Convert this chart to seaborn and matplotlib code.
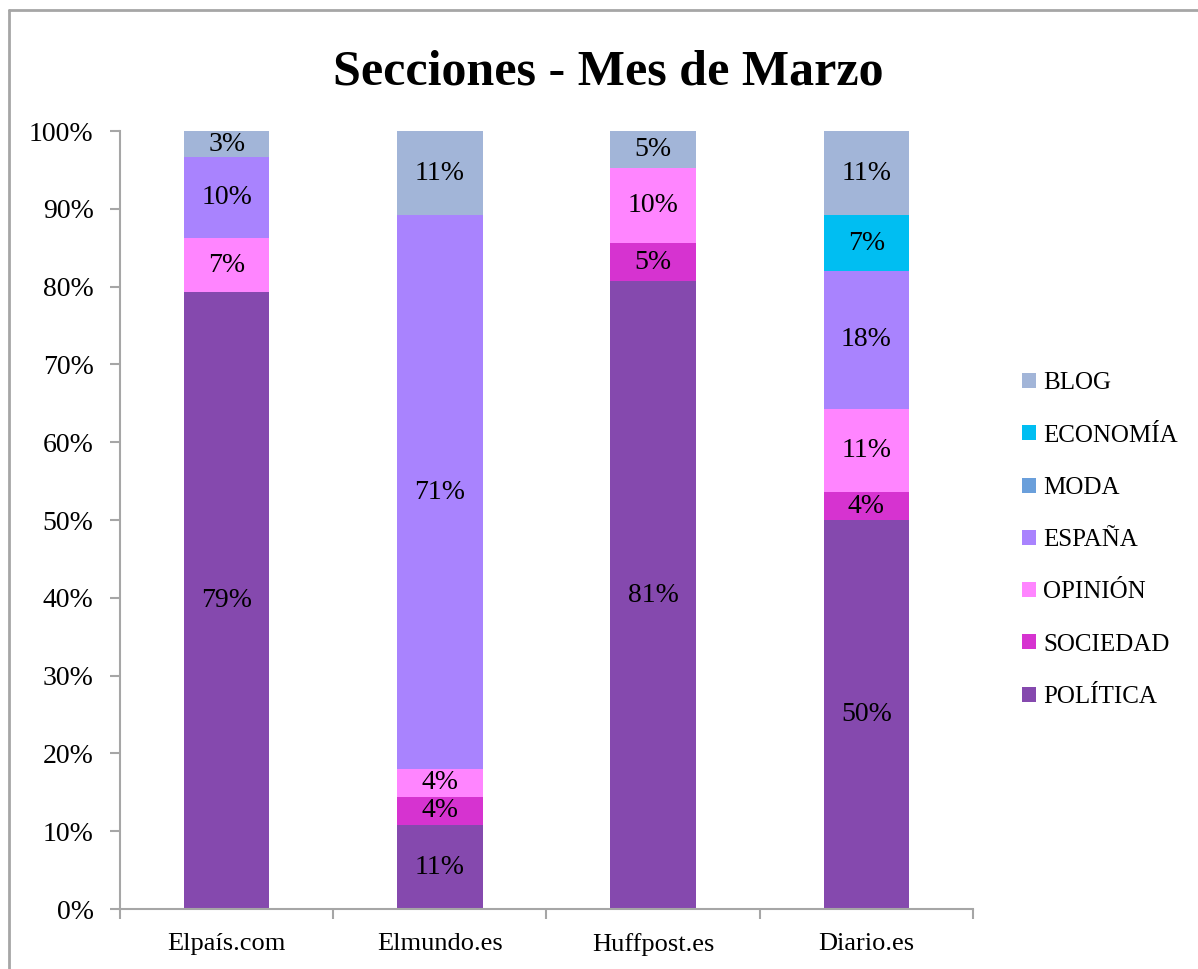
import numpy as np
import pandas as pd
import matplotlib
matplotlib.use("Agg")
import matplotlib.pyplot as plt
from matplotlib.patches import Patch
from matplotlib.lines import Line2D
from matplotlib import ticker
import seaborn as sns

# Data (percent of each site's articles)
sites = ["Elpaís.com", "Elmundo.es", "Huffpost.es", "Diario.es"]
sections = ["POLÍTICA", "SOCIEDAD", "OPINIÓN", "ESPAÑA", "MODA", "ECONOMÍA", "BLOG"]
politica = [79.3, 10.8, 80.7, 50.0]
sociedad = [0.0, 3.6, 4.9, 3.6]
opinion = [6.9, 3.6, 9.6, 10.7]
espana = [10.4, 71.2, 0.0, 17.7]
moda = [0.0, 0.0, 0.0, 0.0]
economia = [0.0, 0.0, 0.0, 7.2]
blog = [3.4, 10.8, 4.8, 10.8]
colors = ["#8549ae", "#d633d0", "#ff85ff", "#a983fe", "#6a9fdb", "#00bef2", "#a2b5d8"]

values = pd.DataFrame(
    {"site": sites, "POLÍTICA": politica, "SOCIEDAD": sociedad, "OPINIÓN": opinion,
     "ESPAÑA": espana, "MODA": moda, "ECONOMÍA": economia, "BLOG": blog}
).set_index("site")
cum = values[sections].cumsum(axis=1)

sns.set_style("white")
plt.rcParams["font.family"] = ["Liberation Serif", "DejaVu Serif"]
plt.rcParams["text.color"] = "black"
plt.rcParams["xtick.labelcolor"] = "black"
plt.rcParams["ytick.labelcolor"] = "black"

fig = plt.figure(figsize=(11.98, 9.69), dpi=100)
ax = fig.add_axes([0.1002, 0.0619, 0.7119, 0.8029])

# stacked bars: draw cumulative totals from the top layer down
for sec, col in zip(sections[::-1], colors[::-1]):
    d = cum[sec].reset_index()
    sns.barplot(data=d, x="site", y=sec, order=sites, color=col,
                saturation=1, width=0.4, linewidth=0, ax=ax)

# segment labels
for i, site in enumerate(sites):
    bottom = 0
    for sec in sections:
        v = values.loc[site, sec]
        if v > 0:
            ax.text(i, bottom + v / 2, f"{round(v)}%", ha="center", va="center",
                    fontsize=20, color="black")
        bottom += v

ax.set_xlim(-0.5, 3.5)
ax.set_ylim(0, 100)
ax.set_xlabel("")
ax.set_ylabel("")
ax.yaxis.set_major_locator(ticker.MultipleLocator(10))
ax.yaxis.set_major_formatter(ticker.FuncFormatter(lambda x, p: f"{x:.0f}%"))
ax.set_xticks(range(len(sites)))
ax.set_xticklabels(sites, fontsize=19)
ax.xaxis.set_minor_locator(ticker.FixedLocator(np.arange(-0.5, 4, 1)))
ax.tick_params(axis="x", which="major", length=0, pad=17)
ax.tick_params(axis="x", which="minor", length=7, width=1.5, color="#a6a6a6", direction="out", bottom=True)
ax.tick_params(axis="y", which="major", length=7, width=1.5, color="#a6a6a6", direction="out",
               left=True, pad=12, labelsize=20)
for s in ["top", "right"]:
    ax.spines[s].set_visible(False)
for s in ["left", "bottom"]:
    ax.spines[s].set_color("#a6a6a6")
    ax.spines[s].set_linewidth(1.5)

handles = [Patch(facecolor=c, edgecolor="none", label=s)
           for s, c in zip(sections[::-1], colors[::-1])]
fig.legend(handles=handles, loc="center left", bbox_to_anchor=(0.853, 0.4425),
           frameon=False, fontsize=18, borderpad=0, borderaxespad=0,
           handlelength=0.56, handleheight=0.56, handletextpad=0.3, labelspacing=1.21)

fig.text(0.5075, 0.925, "Secciones - Mes de Marzo", ha="center", va="center",
         fontsize=36, fontweight="bold", color="black")

# chart border (left and top edges)
fig.add_artist(Line2D([0.0075, 0.0075], [0, 0.9895], transform=fig.transFigure,
                      color="#a6a6a6", lw=2))
fig.add_artist(Line2D([0.0075, 1], [0.9895, 0.9895], transform=fig.transFigure,
                      color="#a6a6a6", lw=2))

fig.savefig("out.png", dpi=100)
